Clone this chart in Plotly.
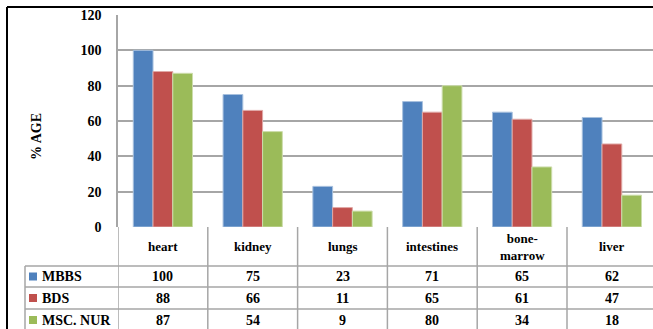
import plotly.graph_objects as go

# Organ categories and percentage values per course
categories = ["heart", "kidney", "lungs", "intestines", "bone-marrow", "liver"]
category_labels = ["heart", "kidney", "lungs", "intestines", "bone-<br>marrow", "liver"]
series_names = ["MBBS", "BDS", "MSC. NUR"]
mbbs = [100, 75, 23, 71, 65, 62]
bds = [88, 66, 11, 65, 61, 47]
msc_nur = [87, 54, 9, 80, 34, 18]
series_values = [mbbs, bds, msc_nur]
colors = ["#4F81BD", "#C0504D", "#9BBB59"]
edge_colors = ["#A7C0DE", "#E0A8A6", "#CDDDAC"]
y_ticks = [0, 20, 40, 60, 80, 100, 120]

W, H = 653, 329
FONT = "Liberation Serif, Times New Roman, serif"


def px(x):
    return x / W


def py(y):
    return 1 - y / H


plot_left, plot_top, plot_bottom = 118, 15, 227
row_lines = [266, 287, 309]
table_left = 25
grid_col = "#A6A6A6"

fig = go.Figure()
for name, vals, c, ec in zip(series_names, series_values, colors, edge_colors):
    fig.add_trace(go.Bar(
        x=categories, y=vals, name=name,
        marker=dict(color=c, line=dict(color=ec, width=1)),
        showlegend=False,
    ))

n_cat = len(categories)
col_px = 89.8
x_hi = -0.5 + (W - plot_left) / col_px

shapes = []
# table column separators (category boundaries), down from the x-axis
for i in range(n_cat + 1):
    shapes.append(dict(type="line", xref="x", yref="paper",
                       x0=i - 0.5, x1=i - 0.5, y0=py(plot_bottom), y1=0,
                       line=dict(color=grid_col, width=1.5)))
# table row separators
for r in row_lines:
    shapes.append(dict(type="line", xref="paper", yref="paper",
                       x0=px(table_left), x1=1, y0=py(r), y1=py(r),
                       line=dict(color=grid_col, width=1.5)))
# left edge of the series-name column
shapes.append(dict(type="line", xref="paper", yref="paper",
                   x0=px(table_left), x1=px(table_left), y0=py(row_lines[0]), y1=0,
                   line=dict(color=grid_col, width=1.5)))
# outer frame (left and top)
shapes.append(dict(type="line", xref="paper", yref="paper",
                   x0=px(7), x1=px(7), y0=py(7), y1=0,
                   line=dict(color="black", width=2)))
shapes.append(dict(type="line", xref="paper", yref="paper",
                   x0=px(7), x1=1, y0=py(7), y1=py(7),
                   line=dict(color="black", width=2)))

annotations = []
# category header row
for i, lab in enumerate(category_labels):
    annotations.append(dict(x=i, y=py((plot_bottom + row_lines[0]) / 2),
                            xref="x", yref="paper", text="<b>%s</b>" % lab,
                            showarrow=False,
                            font=dict(family=FONT, size=13, color="black"),
                            xanchor="center", yanchor="middle"))
# data rows with legend keys
row_bounds = [(row_lines[0], row_lines[1]), (row_lines[1], row_lines[2]), (row_lines[2], row_lines[2] + 22)]
for (r0, r1), name, vals, c in zip(row_bounds, series_names, series_values, colors):
    yc = (r0 + r1) / 2
    shapes.append(dict(type="rect", xref="paper", yref="paper",
                       x0=px(29), x1=px(37), y0=py(yc - 4), y1=py(yc + 4),
                       fillcolor=c, line=dict(width=0)))
    annotations.append(dict(x=px(40), y=py(yc), xref="paper", yref="paper",
                            text="<b>%s</b>" % name, showarrow=False,
                            font=dict(family=FONT, size=14, color="black"),
                            xanchor="left", yanchor="middle"))
    for i, v in enumerate(vals):
        annotations.append(dict(x=i, y=py(yc), xref="x", yref="paper",
                                text="<b>%d</b>" % v, showarrow=False,
                                font=dict(family=FONT, size=14, color="black"),
                                xanchor="center", yanchor="middle"))
# y-axis title
annotations.append(dict(x=px(37), y=py(137), xref="paper", yref="paper",
                        text="<b>% AGE</b>", showarrow=False, textangle=-90,
                        font=dict(family=FONT, size=14, color="black"),
                        xanchor="center", yanchor="middle"))

fig.update_layout(
    width=W, height=H,
    margin=dict(l=0, r=0, t=0, b=0, pad=0, autoexpand=False),
    paper_bgcolor="white", plot_bgcolor="white",
    barmode="group", bargap=0.34, bargroupgap=0,
    xaxis=dict(domain=[px(plot_left), 1], range=[-0.5, x_hi],
               showticklabels=False, showgrid=False, zeroline=False,
               showline=False, ticks="", automargin=False),
    yaxis=dict(domain=[py(plot_bottom), py(plot_top)], range=[0, 120],
               tickvals=y_ticks, ticktext=["<b>%d</b>" % t for t in y_ticks],
               tickfont=dict(family=FONT, size=14, color="black"),
               showgrid=True, gridcolor=grid_col, gridwidth=1.5,
               zeroline=False, showline=True, linecolor=grid_col, linewidth=1.5,
               ticks="", ticklabelstandoff=12, automargin=False),
    shapes=shapes, annotations=annotations,
)

fig.write_html("out.html")
